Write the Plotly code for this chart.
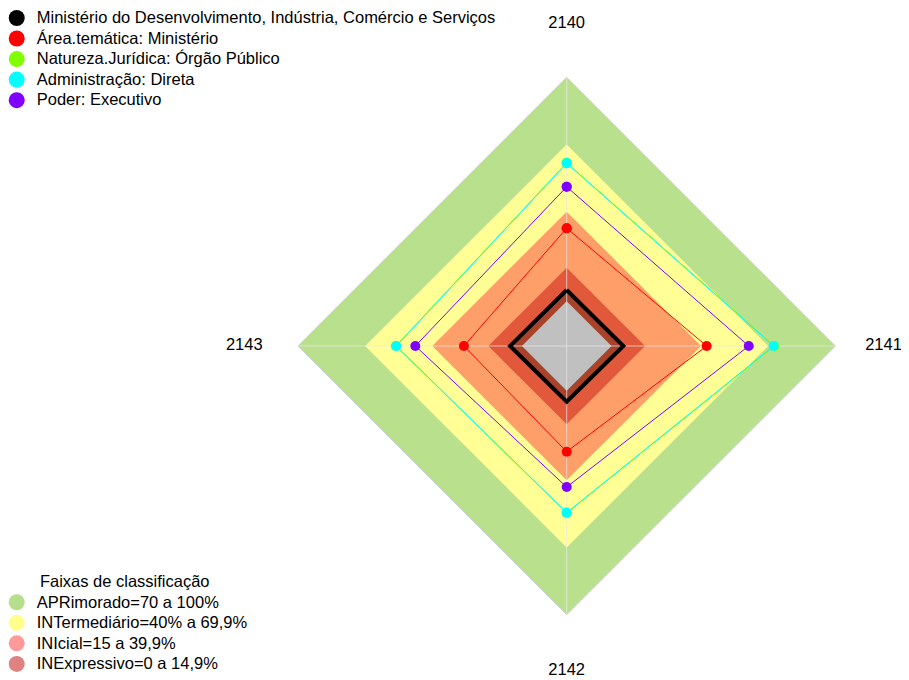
import plotly.graph_objects as go

axes = ["2140", "2141", "2142", "2143"]

ministerio = [5.0, 5.3, 4.9, 5.3]
area_tematica = [32.6, 42.5, 27.2, 25.9]
natureza_juridica = [61.8, 72.7, 54.6, 56.3]
administracao = [61.6, 72.4, 54.4, 56.1]
poder = [51.1, 61.3, 43.0, 47.6]

series_names = [
    "Ministério do Desenvolvimento, Indústria, Comércio e Serviços",
    "Área.temática: Ministério",
    "Natureza.Jurídica: Órgão Público",
    "Administração: Direta",
    "Poder: Executivo",
]

band_limits = [100, 70, 40, 15, 0]
band_fill = ["#b9e08c", "#ffff96", "#fe9e68", "#e1583a", "#c0c0c0"]
band_labels = [
    "APRimorado=70 a 100%",
    "INTermediário=40% a 69,9%",
    "INIcial=15 a 39,9%",
    "INExpressivo=0 a 14,9%",
]
band_legend_colors = ["#b5df8c", "#ffff8c", "#ff9a9a", "#df8282"]

# radial position (in axis units) of the axis-name labels
label_r = [123.7, 121.5, 125.0, 124.0]

r_min, r_max = -20, 126

fig = go.Figure()

closed = axes + [axes[0]]


def close(v):
    return list(v) + [v[0]]


def big(txt):
    return '<span style="font-size:16.5px">' + txt + "</span>"


# classification bands (largest first)
for i, (lim, col) in enumerate(zip(band_limits[:-1], band_fill[:-1])):
    fig.add_trace(go.Scatterpolar(
        r=[lim] * 5, theta=closed, mode="lines", fill="toself",
        fillcolor=col,
        line=dict(width=1 if i == 0 else 0,
                  color="rgba(205,205,205,0.9)" if i == 0 else col),
        showlegend=False, hoverinfo="skip"))

# darkened area under the main series
fig.add_trace(go.Scatterpolar(
    r=close(ministerio), theta=closed, mode="lines", fill="toself",
    fillcolor="rgba(0,0,0,0.25)", line=dict(width=0),
    showlegend=False, hoverinfo="skip"))

# grey centre
fig.add_trace(go.Scatterpolar(
    r=[band_limits[-1]] * 5, theta=closed, mode="lines", fill="toself",
    fillcolor=band_fill[-1], line=dict(width=0, color=band_fill[-1]),
    showlegend=False, hoverinfo="skip"))

# spokes
spoke_r, spoke_t = [], []
for a in axes:
    spoke_r += [r_min, band_limits[0], None]
    spoke_t += [a, a, None]
fig.add_trace(go.Scatterpolar(
    r=spoke_r, theta=spoke_t, mode="lines",
    line=dict(color="rgba(232,232,232,0.7)", width=1),
    showlegend=False, hoverinfo="skip"))

series = [
    (series_names[2], natureza_juridica, "#80ff00", 1, 10),
    (series_names[3], administracao, "#00ffff", 1, 10),
    (series_names[4], poder, "#8000ff", 1, 10),
    (series_names[1], area_tematica, "#ff0000", 1, 10),
    (series_names[0], ministerio, "#000000", 4, 10),
]
for name, vals, col, lw, ms in series:
    fig.add_trace(go.Scatterpolar(
        r=close(vals), theta=closed, mode="lines+markers", name=name,
        line=dict(color=col, width=lw), marker=dict(color=col, size=ms),
        showlegend=False))

# axis names
fig.add_trace(go.Scatterpolar(
    r=label_r, theta=axes, mode="text", text=axes,
    textposition="middle center", textfont=dict(size=16.5, color="black"),
    cliponaxis=False, showlegend=False, hoverinfo="skip"))

legend_colors = ["#000000", "#ff0000", "#80ff00", "#00ffff", "#8000ff"]
for name, col in zip(series_names, legend_colors):
    fig.add_trace(go.Scatterpolar(
        r=[None], theta=[None], mode="markers", name=big(name),
        marker=dict(color=col, size=16), legend="legend"))

for lab, col in zip(band_labels, band_legend_colors):
    fig.add_trace(go.Scatterpolar(
        r=[None], theta=[None], mode="markers", name=big(lab),
        marker=dict(color=col, size=16), legend="legend2"))

W, H = 909, 680
# the page body adds an 8px offset; positions below are in figure pixels
cx, cy = 558.7, 338.0
R = 268.7 * (r_max - r_min) / (band_limits[0] - r_min)

fig.update_layout(
    width=W, height=H,
    margin=dict(l=0, r=0, t=0, b=0, autoexpand=False),
    paper_bgcolor="white", plot_bgcolor="white",
    font=dict(family="Arial, Liberation Sans, sans-serif", size=15, color="black"),
    polar=dict(
        domain=dict(x=[(cx - R) / W, (cx + R) / W], y=[1 - (cy + R) / H, 1 - (cy - R) / H]),
        bgcolor="rgba(0,0,0,0)",
        gridshape="linear",
        radialaxis=dict(range=[r_min, r_max], visible=False, showgrid=False),
        angularaxis=dict(
            rotation=90, direction="clockwise", type="category",
            categoryarray=axes,
            showgrid=False, showline=False,
            ticks="", showticklabels=False,
        ),
    ),
    legend=dict(x=-0.0124, y=1.0078, xanchor="left", yanchor="top",
                bgcolor="rgba(0,0,0,0)", font=dict(size=13.5),
                tracegroupgap=0, itemsizing="trace"),
    legend2=dict(x=-0.0124, y=0.0128, xanchor="left", yanchor="bottom",
                 bgcolor="rgba(0,0,0,0)", font=dict(size=13.5),
                 title=dict(text=big("Faixas de classificação"), side="top center",
                            font=dict(size=19))),
)

fig.write_html("out.html")
